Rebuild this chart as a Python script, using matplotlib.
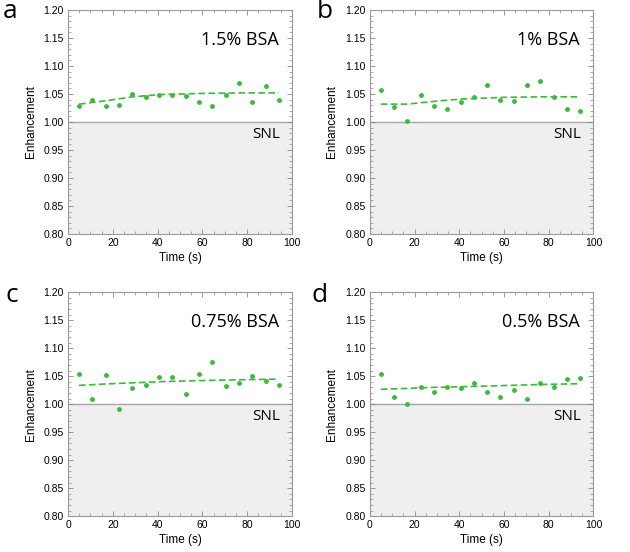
import matplotlib
matplotlib.use('Agg')
import matplotlib.pyplot as plt
from matplotlib.ticker import MultipleLocator, FormatStrFormatter

# time points (s), same for every panel
time_s = [4.9, 10.8, 16.8, 22.7, 28.7, 34.6, 40.6, 46.5, 52.5, 58.4, 64.4, 70.3, 76.3, 82.2, 88.2, 94.1]

# measured enhancement
enh_a = [1.028, 1.040, 1.028, 1.030, 1.050, 1.045, 1.049, 1.048, 1.046, 1.035, 1.029, 1.049, 1.070, 1.036, 1.065, 1.039]
enh_b = [1.058, 1.027, 1.001, 1.049, 1.029, 1.023, 1.035, 1.045, 1.066, 1.040, 1.038, 1.066, 1.073, 1.044, 1.023, 1.019]
enh_c = [1.054, 1.009, 1.052, 0.992, 1.028, 1.034, 1.048, 1.049, 1.018, 1.054, 1.076, 1.033, 1.037, 1.051, 1.041, 1.035]
enh_d = [1.053, 1.013, 1.001, 1.031, 1.021, 1.031, 1.029, 1.038, 1.021, 1.012, 1.025, 1.009, 1.038, 1.031, 1.045, 1.046]

# trend lines (dashed)
fit_x = [4.9, 16.8, 28.7, 40.6, 58.4, 76.3, 94.1]
fit_a = [1.032, 1.038, 1.045, 1.049, 1.051, 1.052, 1.052]
fit_b = [1.032, 1.032, 1.037, 1.041, 1.044, 1.045, 1.045]
fit_c = [1.0335, 1.036, 1.038, 1.040, 1.042, 1.0435, 1.0447]
fit_d = [1.0265, 1.028, 1.030, 1.031, 1.033, 1.035, 1.0365]

panels = [
    ('a', '1.5% BSA', enh_a, fit_a, [0.108, 0.576, 0.3556, 0.4058], (10, 12)),
    ('b', '1% BSA', enh_b, fit_b, [0.587, 0.576, 0.355, 0.4058], (325, 12)),
    ('c', '0.75% BSA', enh_c, fit_c, [0.108, 0.065, 0.3556, 0.4058], (12, 295)),
    ('d', '0.5% BSA', enh_d, fit_d, [0.587, 0.065, 0.355, 0.4058], (320, 295)),
]

green = '#3cb93c'
tick_font = ['Liberation Sans', 'DejaVu Sans']
text_font = ['Open Sans', 'DejaVu Sans']

fig = plt.figure(figsize=(6.3, 5.52), dpi=100)

for letter, label, enh, fit, pos, lpos in panels:
    ax = fig.add_axes(pos)
    ax.axhspan(0.8, 1.0, color='#efefef', zorder=0)
    ax.axhline(1.0, color='#a8a8a8', lw=1.0, zorder=1)
    ax.plot(fit_x, fit, ls='--', color=green, lw=1.2, dashes=(4, 2), zorder=2)
    ax.plot(time_s, enh, 'o', color=green, ms=3.5, mec='none', zorder=3)
    ax.set_xlim(0, 100)
    ax.set_ylim(0.8, 1.2)
    ax.xaxis.set_major_locator(MultipleLocator(20))
    ax.xaxis.set_minor_locator(MultipleLocator(5))
    ax.yaxis.set_major_locator(MultipleLocator(0.05))
    ax.yaxis.set_minor_locator(MultipleLocator(0.01))
    ax.yaxis.set_major_formatter(FormatStrFormatter('%.2f'))
    ax.tick_params(which='both', direction='in', top=True, right=True, color='#888888')
    ax.tick_params(which='major', length=3.5, width=0.6, labelsize=7.5, pad=3)
    ax.tick_params(which='minor', length=2, width=0.5)
    for lab in ax.get_xticklabels() + ax.get_yticklabels():
        lab.set_family(tick_font)
    for sp in ax.spines.values():
        sp.set_color('#999999')
        sp.set_linewidth(0.8)
    ax.set_xlabel('Time (s)', family=tick_font, fontsize=8.5, labelpad=3)
    ax.set_ylabel('Enhancement', family=tick_font, fontsize=8.5, labelpad=5)
    ax.text(94, 1.146, label, ha='right', va='center', fontsize=13, family=text_font)
    ax.text(94.5, 0.977, 'SNL', ha='right', va='center', fontsize=11, family=text_font)
    fig.text(lpos[0] / 630, 1 - lpos[1] / 552, letter, ha='center', va='center',
             fontsize=19, family=text_font)

fig.savefig('out.png', dpi=100)
